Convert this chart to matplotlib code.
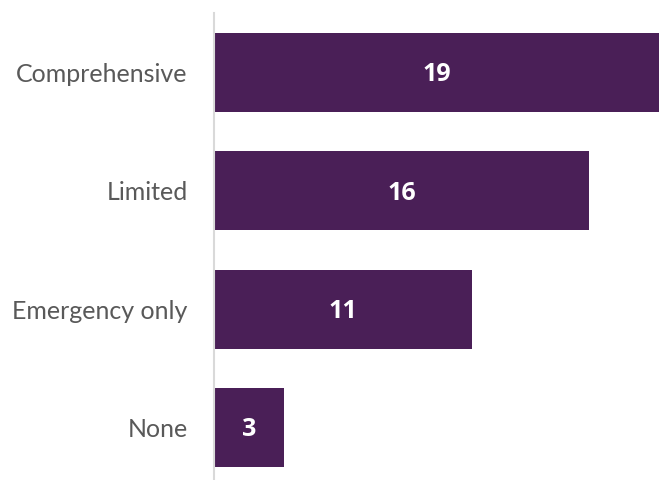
import numpy as np
import matplotlib
matplotlib.use('Agg')
import matplotlib.pyplot as plt

categories = ['Comprehensive', 'Limited', 'Emergency only', 'None']
values = [19, 16, 11, 3]

bar_color = '#4a1f57'
plt.rcParams['font.family'] = ['Lato', 'DejaVu Sans']

fig = plt.figure(figsize=(6.61, 4.80), dpi=100)
ax = fig.add_axes([214 / 661, 0, 445 / 661, 467 / 480])

y = np.arange(len(categories))
ax.barh(y, values, height=0.67, color=bar_color)
for yi, v in zip(y, values):
    ax.text(v / 2, yi + 0.02, str(v), color='white', fontsize=18, fontweight='bold',
            family=['Open Sans', 'DejaVu Sans'], ha='center', va='center')

ax.set_xlim(0, 19)
ax.set_ylim(3.444, -0.503)
ax.set_yticks(y)
ax.set_yticklabels(categories, fontsize=18, color='#595959')
ax.tick_params(axis='y', length=0, pad=19)
ax.set_xticks([])
for s in ['top', 'right', 'bottom']:
    ax.spines[s].set_visible(False)
ax.spines['left'].set_color('#d9d9d9')
ax.spines['left'].set_linewidth(1.5)

fig.savefig('out.png', dpi=100)
